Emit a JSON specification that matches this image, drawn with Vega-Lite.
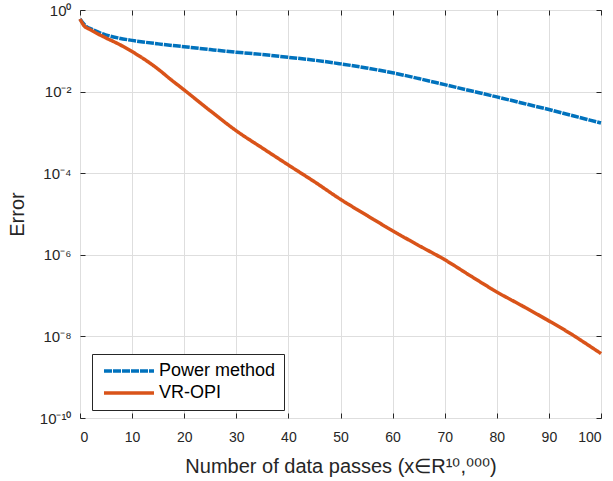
{
  "$schema": "https://vega.github.io/schema/vega-lite/v6.json",
  "width": 521,
  "height": 408,
  "autosize": "none",
  "padding": {"left": 80, "top": 10, "right": 12, "bottom": 63},
  "background": "white",
  "config": {
    "view": {"stroke": "#262626", "strokeWidth": 1},
    "font": "Liberation Sans",
    "axis": {"labelFont": "Liberation Sans", "titleFont": "Liberation Sans", "labelColor": "#262626", "titleColor": "#262626", "titleFontWeight": "normal", "domainColor": "#262626", "tickColor": "#262626", "gridColor": "#dedede", "gridWidth": 1}
  },
  "data": {"values": [
    {"series": "Power method", "x": 0, "y": 0.6026},
    {"series": "Power method", "x": 1, "y": 0.4169},
    {"series": "Power method", "x": 2.4, "y": 0.3311},
    {"series": "Power method", "x": 4.9, "y": 0.2455},
    {"series": "Power method", "x": 7.5, "y": 0.2042},
    {"series": "Power method", "x": 10, "y": 0.1799},
    {"series": "Power method", "x": 15, "y": 0.1479},
    {"series": "Power method", "x": 20, "y": 0.1259},
    {"series": "Power method", "x": 25, "y": 0.1072},
    {"series": "Power method", "x": 30, "y": 0.09226},
    {"series": "Power method", "x": 35, "y": 0.08128},
    {"series": "Power method", "x": 40, "y": 0.06918},
    {"series": "Power method", "x": 45, "y": 0.05888},
    {"series": "Power method", "x": 50, "y": 0.04786},
    {"series": "Power method", "x": 55, "y": 0.03802},
    {"series": "Power method", "x": 60, "y": 0.02884},
    {"series": "Power method", "x": 65, "y": 0.02089},
    {"series": "Power method", "x": 70, "y": 0.01479},
    {"series": "Power method", "x": 75, "y": 0.01047},
    {"series": "Power method", "x": 80, "y": 0.007413},
    {"series": "Power method", "x": 85, "y": 0.005188},
    {"series": "Power method", "x": 90, "y": 0.003631},
    {"series": "Power method", "x": 95, "y": 0.002483},
    {"series": "Power method", "x": 100, "y": 0.001698},
    {"series": "VR-OPI", "x": 0, "y": 0.6026},
    {"series": "VR-OPI", "x": 0.8, "y": 0.4074},
    {"series": "VR-OPI", "x": 1.8, "y": 0.3388},
    {"series": "VR-OPI", "x": 4.9, "y": 0.2089},
    {"series": "VR-OPI", "x": 7.5, "y": 0.1445},
    {"series": "VR-OPI", "x": 10, "y": 0.0955},
    {"series": "VR-OPI", "x": 12.6, "y": 0.0590},
    {"series": "VR-OPI", "x": 15, "y": 0.0355},
    {"series": "VR-OPI", "x": 17.3, "y": 0.02042},
    {"series": "VR-OPI", "x": 20, "y": 0.01096},
    {"series": "VR-OPI", "x": 25, "y": 0.003388},
    {"series": "VR-OPI", "x": 30, "y": 0.001096},
    {"series": "VR-OPI", "x": 35.2, "y": 3.981e-4},
    {"series": "VR-OPI", "x": 40, "y": 1.585e-4},
    {"series": "VR-OPI", "x": 45, "y": 6.166e-5},
    {"series": "VR-OPI", "x": 50, "y": 2.291e-5},
    {"series": "VR-OPI", "x": 55, "y": 9.333e-6},
    {"series": "VR-OPI", "x": 60, "y": 3.890e-6},
    {"series": "VR-OPI", "x": 65, "y": 1.698e-6},
    {"series": "VR-OPI", "x": 70, "y": 7.586e-7},
    {"series": "VR-OPI", "x": 75, "y": 3.020e-7},
    {"series": "VR-OPI", "x": 80, "y": 1.230e-7},
    {"series": "VR-OPI", "x": 85, "y": 5.495e-8},
    {"series": "VR-OPI", "x": 90, "y": 2.399e-8},
    {"series": "VR-OPI", "x": 95, "y": 1.0e-8},
    {"series": "VR-OPI", "x": 96.2, "y": 7.943e-9},
    {"series": "VR-OPI", "x": 100, "y": 3.802e-9}
  ]},
  "layer": [
    {
      "mark": {"type": "line", "strokeWidth": 3.5, "interpolate": "monotone"},
      "encoding": {
        "x": {"field": "x", "type": "quantitative", "scale": {"domain": [0, 100], "nice": false},
          "axis": {"orient": "bottom", "values": [0,10,20,30,40,50,60,70,80,90,100], "tickSize": -5, "labelPadding": 17, "labelFontSize": 14, "title": "Number of data passes (x∈R¹⁰,⁰⁰⁰)", "titleFontSize": 20, "titlePadding": 12, "grid": true, "domain": false}},
        "y": {"field": "y", "type": "quantitative", "scale": {"type": "log", "domain": [1e-10, 1], "nice": false},
          "axis": {"orient": "left", "values": [1, 0.01, 0.0001, 1e-6, 1e-8, 1e-10], "tickSize": -5, "labelPadding": 14, "labelFontSize": 15, "labelExpr": "'10' + (datum.value >= 0.5 ? '⁰' : '⁻' + ['⁰','¹','²','³','⁴','⁵','⁶','⁷','⁸','⁹','¹⁰'][round(-log(datum.value)/LN10)])", "title": "Error", "titleFontSize": 20, "titlePadding": 12, "grid": true, "domain": false}},
        "color": {"field": "series", "type": "nominal",
          "scale": {"domain": ["Power method", "VR-OPI"], "range": ["#0072BD", "#D95319"]},
          "legend": {"title": null, "orient": "none", "legendX": 12, "legendY": 344, "direction": "vertical",
            "strokeColor": "#262626", "fillColor": "white", "padding": 8, "rowPadding": 4,
            "symbolType": "M-1,0H9", "symbolSize": 100, "symbolStrokeWidth": 3.5,
            "labelFontSize": 18, "labelFont": "Liberation Sans", "labelColor": "#000000", "labelOffset": 41,
            "encode": {"symbols": {"update": {"strokeDash": {"signal": "datum.value === 'Power method' ? [12, 4, 4, 4] : [1, 0]"}}}}}},
        "strokeDash": {"field": "series", "type": "nominal", "scale": {"domain": ["Power method", "VR-OPI"], "range": [[8, 1], [1, 0]]}, "legend": null}
      }
    },
    {
      "mark": {"type": "line", "opacity": 0},
      "encoding": {
        "x": {"field": "x", "type": "quantitative", "axis": {"orient": "top", "values": [0,10,20,30,40,50,60,70,80,90,100], "tickSize": -5, "labels": false, "title": null, "grid": false, "domain": false}},
        "y": {"field": "y", "type": "quantitative", "scale": {"type": "log"}, "axis": {"orient": "right", "values": [1, 0.01, 0.0001, 1e-6, 1e-8, 1e-10], "tickSize": -5, "labels": false, "title": null, "grid": false, "domain": false}},
        "detail": {"field": "series"}
      }
    }
  ],
  "resolve": {"axis": {"x": "independent", "y": "independent"}}
}
